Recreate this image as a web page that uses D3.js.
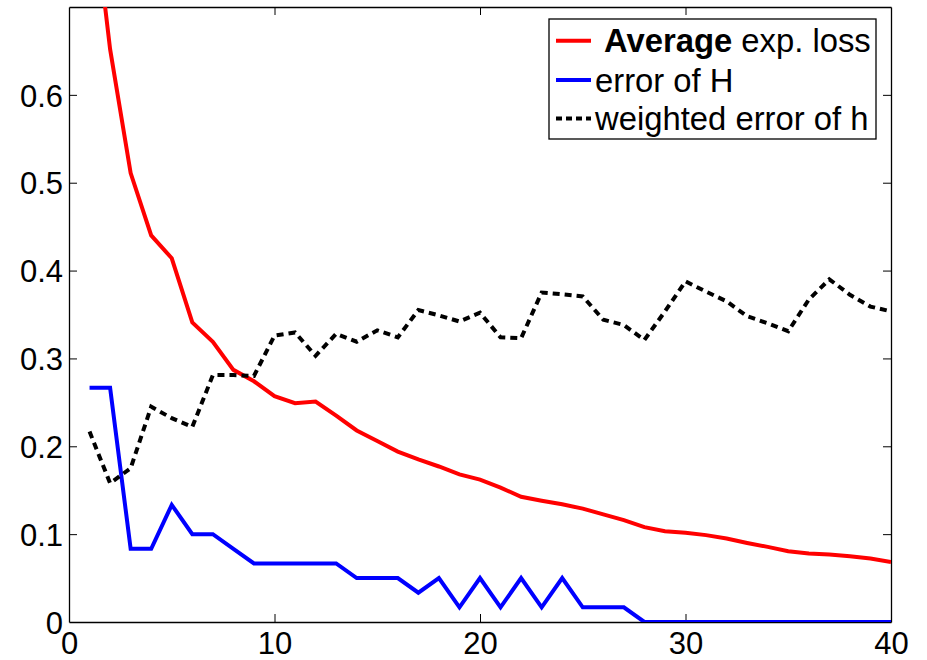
<!DOCTYPE html>
<html>
<head>
<meta charset="utf-8">
<script src="https://cdn.jsdelivr.net/npm/d3@7"></script>
<style>
  html, body { margin: 0; padding: 0; background: #fff; }
  svg { display: block; font-family: "Liberation Sans", Arial, Helvetica, sans-serif; }
</style>
</head>
<body>
<svg id="chart" width="927" height="660"></svg>
<script>
// ---- data ----
const iterations = d3.range(1, 41);
const avgExpLoss = [0.85, 0.652, 0.511, 0.440, 0.414, 0.341, 0.319, 0.287, 0.274, 0.257,
  0.249, 0.251, 0.235, 0.218, 0.206, 0.194, 0.185, 0.177, 0.168, 0.162,
  0.153, 0.1425, 0.138, 0.134, 0.129, 0.1225, 0.116, 0.108, 0.1034, 0.1015,
  0.0989, 0.095, 0.090, 0.0855, 0.0806, 0.078, 0.0768, 0.0749, 0.0723, 0.0684];
const errorH = [0.2667, 0.2667, 0.0833, 0.0833, 0.1333, 0.1, 0.1, 0.0833, 0.0667, 0.0667,
  0.0667, 0.0667, 0.0667, 0.05, 0.05, 0.05, 0.0333, 0.05, 0.0167, 0.05,
  0.0167, 0.05, 0.0167, 0.05, 0.0167, 0.0167, 0.0167, 0, 0, 0,
  0, 0, 0, 0, 0, 0, 0, 0, 0, 0];
const weightedErrorh = [0.2167, 0.158, 0.175, 0.245, 0.232, 0.222, 0.281, 0.281, 0.280, 0.326,
  0.3296, 0.303, 0.328, 0.319, 0.332, 0.324, 0.355, 0.349, 0.342, 0.352,
  0.324, 0.323, 0.375, 0.373, 0.3706, 0.344, 0.338, 0.321, 0.3535, 0.3877,
  0.376, 0.365, 0.348, 0.340, 0.331, 0.367, 0.390, 0.3725, 0.359, 0.3535];
const xTicks = [0, 10, 20, 30, 40];
const yTicks = [0, 0.1, 0.2, 0.3, 0.4, 0.5, 0.6];
const seriesNames = ["Average exp. loss", "error of H", "weighted error of h"];
const seriesColors = ["#ff0000", "#0000ff", "#000000"];

// ---- layout ----
const svg = d3.select("#chart");
const L = 69, R = 891, T = 7, B = 622;
const x = d3.scaleLinear().domain([0, 40]).range([L, R]);
const y = d3.scaleLinear().domain([0, 0.7]).range([B, T]);
const tickLen = 8;
const fontSize = 31;

svg.append("defs").append("clipPath").attr("id", "clip")
  .append("rect").attr("x", L).attr("y", T).attr("width", R - L).attr("height", B - T);

// axes (MATLAB box style: ticks inside, mirrored)
const fmtY = d => d === 0 ? "0" : d3.format(".1f")(d);
const axB = svg.append("g").attr("transform", `translate(0,${B})`)
  .call(d3.axisBottom(x).tickValues(xTicks).tickSizeInner(-tickLen).tickSizeOuter(0).tickPadding(10).tickFormat(d3.format("d")));
const axT = svg.append("g").attr("transform", `translate(0,${T})`)
  .call(d3.axisTop(x).tickValues(xTicks).tickSizeInner(-tickLen).tickSizeOuter(0).tickFormat(""));
const axL = svg.append("g").attr("transform", `translate(${L},0)`)
  .call(d3.axisLeft(y).tickValues(yTicks).tickSizeInner(-tickLen).tickSizeOuter(0).tickPadding(6).tickFormat(fmtY));
const axR = svg.append("g").attr("transform", `translate(${R},0)`)
  .call(d3.axisRight(y).tickValues(yTicks).tickSizeInner(-tickLen).tickSizeOuter(0).tickFormat(""));
[axB, axT, axL, axR].forEach(g => {
  g.selectAll(".domain").attr("stroke", "#000").attr("stroke-width", 1.3);
  g.selectAll(".tick line").attr("stroke", "#000").attr("stroke-width", 1);
  g.selectAll("text").attr("font-size", fontSize).attr("fill", "#000")
    .attr("font-family", "'Liberation Sans', Arial, sans-serif");
});
axB.selectAll(".tick text").attr("dy", "0.71em");
axL.selectAll(".tick text").attr("dy", "0.36em");
axB.selectAll(".tick line").filter(d => d === 0 || d === 40).remove();
axT.selectAll(".tick line").filter(d => d === 0 || d === 40).remove();
axL.selectAll(".tick line").filter(d => d === 0).remove();
axR.selectAll(".tick line").filter(d => d === 0).remove();

// ---- lines ----
const series = [avgExpLoss, errorH, weightedErrorh];
const line = d3.line().x((d, i) => x(iterations[i])).y(d => y(d));
const plot = svg.append("g").attr("clip-path", "url(#clip)");
series.forEach((vals, k) => {
  plot.append("path")
    .datum(vals)
    .attr("d", line)
    .attr("fill", "none")
    .attr("stroke", seriesColors[k])
    .attr("stroke-width", 4)
    .attr("stroke-linejoin", "miter")
    .attr("stroke-dasharray", k === 2 ? "7,5" : null);
});

// ---- legend ----
const lg = svg.append("g");
lg.append("rect").attr("x", 549).attr("y", 19).attr("width", 327).attr("height", 120)
  .attr("fill", "#fff").attr("stroke", "#000").attr("stroke-width", 1.3);
const rowY = [40.7, 80, 118.6];
seriesNames.forEach((name, k) => {
  lg.append("line").attr("x1", 556).attr("x2", 591).attr("y1", rowY[k]).attr("y2", rowY[k])
    .attr("stroke", seriesColors[k]).attr("stroke-width", 4)
    .attr("stroke-dasharray", k === 2 ? "6,4" : null);
  const t = lg.append("text").attr("y", rowY[k] + 11.7).attr("font-size", 32.8).attr("fill", "#000");
  if (k === 0) {
    const parts = name.split(" ");
    t.append("tspan").attr("x", 604).attr("font-weight", "bold").text(parts[0]);
    t.append("tspan").text(" " + parts.slice(1).join(" "));
  } else {
    t.attr("x", 595).text(name);
  }
});
</script>
</body>
</html>
